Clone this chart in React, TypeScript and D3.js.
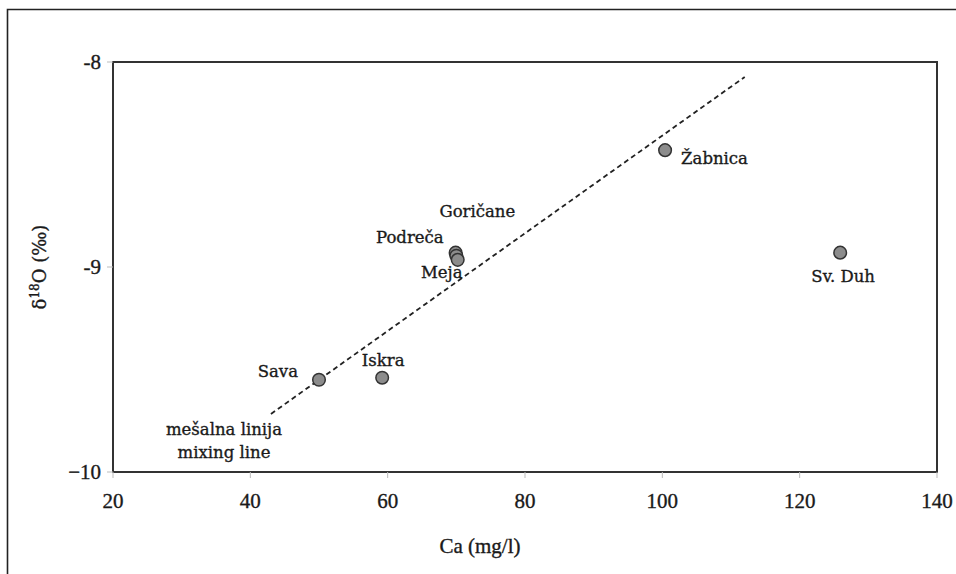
import React from "react";
import * as d3 from "d3";

const sites = ["Sava", "Iskra", "Podreča", "Goričane", "Meja", "Žabnica", "Sv. Duh"];
const caValues = [50, 59.2, 69.9, 70.0, 70.2, 100.4, 125.9];
const d18OValues = [-9.55, -9.54, -8.93, -8.945, -8.965, -8.43, -8.93];
const xTicks = [20, 40, 60, 80, 100, 120, 140];
const yTicks = [-8, -9, -10];
const mixingX = [43, 112];
const mixingY = [-9.717, -8.073];

// label offsets (dx, dy in px, anchor) per site
const labelPos: [number, number, string][] = [
  [-21, -3, "end"],
  [1, -12, "middle"],
  [-12, -10, "end"],
  [21, -39, "middle"],
  [-16, 18, "middle"],
  [16, 14, "start"],
  [3, 29, "middle"],
];

export default function App() {
  const W = 956, H = 574;
  const x = d3.scaleLinear().domain([20, 140]).range([113, 937]);
  const y = d3.scaleLinear().domain([-10, -8]).range([472, 62]);
  const line = d3.line<number>().x((d, i) => x(mixingX[i])).y((d, i) => y(mixingY[i]));
  const font = "'DejaVu Serif', serif";
  const tickFont = "'Liberation Serif', serif";
  const ink = "#1a1a1a";
  const thick = { stroke: ink, strokeWidth: 0.35 };
  return (
    <svg width={W} height={H} style={{ position: "absolute", left: 0, top: 0, background: "#fff" }}>
      <rect x={0} y={0} width={W} height={H} fill="#fff" />
      <path d={`M7.5,${H} L7.5,9.5 L${W},9.5`} fill="none" stroke="#222" strokeWidth={1.6} />
      <rect x={x(20)} y={y(-8)} width={x(140) - x(20)} height={y(-10) - y(-8)} fill="none" stroke="#333" strokeWidth={2} />
      {xTicks.map((t) => (
        <g key={"x" + t}>
          <line x1={x(t)} x2={x(t)} y1={y(-10)} y2={y(-10) + 6} stroke="#bbb" strokeWidth={1} />
          <text x={x(t)} y={y(-10) + 36} textAnchor="middle" fontFamily={tickFont} fontSize={21} fill={ink} {...thick}>{t}</text>
        </g>
      ))}
      {yTicks.map((t) => (
        <g key={"y" + t}>
          <line x1={x(20) - 6} x2={x(20)} y1={y(t)} y2={y(t)} stroke="#bbb" strokeWidth={1} />
          <text x={x(20) - 12} y={y(t) + 7} textAnchor="end" fontFamily={tickFont} fontSize={21} fill={ink} {...thick}>{t === -10 ? "\u221210" : `-${-t}`}</text>
        </g>
      ))}
      <text x={480} y={553} textAnchor="middle" fontFamily={tickFont} fontSize={21} fill={ink} {...thick}>Ca (mg/l)</text>
      <text transform={`translate(46,${y(-9)}) rotate(-90)`} textAnchor="middle" fontFamily={font} fontSize={18} fill={ink} {...thick}>
        δ<tspan dy={-7} fontSize={12}>18</tspan><tspan dy={7}>O (‰)</tspan>
      </text>
      <path d={line(mixingX) || ""} fill="none" stroke="#222" strokeWidth={1.8} strokeDasharray="5,3.5" />
      {sites.map((s, i) => (
        <circle key={s} cx={x(caValues[i])} cy={y(d18OValues[i])} r={6.3} fill="#8c8c8c" stroke="#333" strokeWidth={1.5} />
      ))}
      {sites.map((s, i) => (
        <text key={"l" + s} x={x(caValues[i]) + labelPos[i][0]} y={y(d18OValues[i]) + labelPos[i][1]} textAnchor={labelPos[i][2] as any} fontFamily={font} fontSize={16.5} fill={ink} {...thick}>{s}</text>
      ))}
      <text x={224} y={435} textAnchor="middle" fontFamily={font} fontSize={16.5} fill={ink} {...thick}>mešalna linija</text>
      <text x={224} y={458} textAnchor="middle" fontFamily={font} fontSize={16.5} fill={ink} {...thick}>mixing line</text>
    </svg>
  );
}
